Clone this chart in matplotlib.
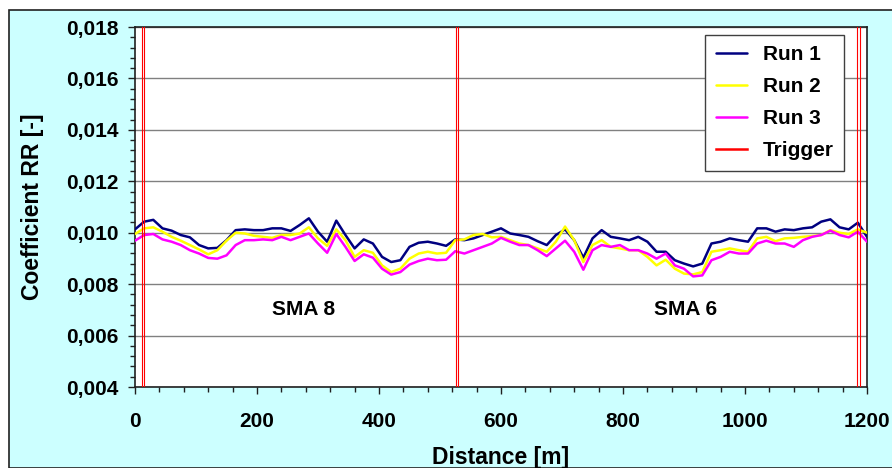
import matplotlib
matplotlib.use("Agg")
import matplotlib.pyplot as plt
from matplotlib.patches import Rectangle
from matplotlib.ticker import MultipleLocator

plt.rcParams['font.family'] = ['Liberation Sans', 'DejaVu Sans']
plt.rcParams['font.weight'] = 'bold'

# ---------------- data ----------------
distance = [0, 15, 30, 45, 60, 75, 90, 105, 120, 135, 150, 165, 180, 195, 210, 225,
            240, 255, 270, 285, 300, 315, 330, 345, 360, 375, 390, 405, 420, 435, 450, 465,
            480, 495, 510, 525, 540, 555, 570, 585, 600, 615, 630, 645, 660, 675, 690, 705,
            720, 735, 750, 765, 780, 795, 810, 825, 840, 855, 870, 885, 900, 915, 930, 945,
            960, 975, 990, 1005, 1020, 1035, 1050, 1065, 1080, 1095, 1110, 1125, 1140, 1155,
            1170, 1185, 1200]

run1 = [0.01013, 0.01043, 0.01050, 0.01017, 0.01008, 0.00991, 0.00982, 0.00952,
        0.00939, 0.00941, 0.00971, 0.01010, 0.01013, 0.01010, 0.01010, 0.01017,
        0.01017, 0.01007, 0.01030, 0.01056, 0.01004, 0.00965, 0.01047, 0.00991,
        0.00939, 0.00974, 0.00958, 0.00906, 0.00886, 0.00893, 0.00945, 0.00961,
        0.00965, 0.00958, 0.00949, 0.00974, 0.00971, 0.00978, 0.00991, 0.01004,
        0.01017, 0.00997, 0.00991, 0.00984, 0.00967, 0.00952, 0.00991, 0.01013,
        0.00971, 0.00903, 0.00978, 0.01010, 0.00984, 0.00978, 0.00971, 0.00984,
        0.00965, 0.00926, 0.00926, 0.00893, 0.00880, 0.00869, 0.00880, 0.00958,
        0.00965, 0.00978, 0.00971, 0.00965, 0.01017, 0.01017, 0.01004, 0.01013,
        0.01010, 0.01017, 0.01021, 0.01043, 0.01052, 0.01021, 0.01013, 0.01039,
        0.00984]

run2 = [0.00995, 0.01017, 0.01021, 0.01004, 0.00984, 0.00969, 0.00952, 0.00935,
        0.00916, 0.00932, 0.00969, 0.01000, 0.00997, 0.00988, 0.00984, 0.00980,
        0.00991, 0.00991, 0.00997, 0.01021, 0.00978, 0.00949, 0.01013, 0.00971,
        0.00906, 0.00932, 0.00922, 0.00873, 0.00847, 0.00860, 0.00899, 0.00919,
        0.00926, 0.00919, 0.00922, 0.00971, 0.00974, 0.00991, 0.00995, 0.00982,
        0.00984, 0.00971, 0.00958, 0.00952, 0.00939, 0.00926, 0.00965, 0.01024,
        0.00971, 0.00886, 0.00952, 0.00971, 0.00945, 0.00939, 0.00932, 0.00932,
        0.00906, 0.00873, 0.00895, 0.00860, 0.00841, 0.00838, 0.00847, 0.00926,
        0.00932, 0.00939, 0.00932, 0.00926, 0.00978, 0.00984, 0.00967, 0.00978,
        0.00980, 0.00984, 0.00987, 0.00991, 0.01010, 0.01000, 0.00995, 0.01013,
        0.01000]

run3 = [0.00969, 0.00991, 0.00995, 0.00974, 0.00965, 0.00952, 0.00932, 0.00919,
        0.00902, 0.00899, 0.00912, 0.00952, 0.00971, 0.00971, 0.00974, 0.00971,
        0.00984, 0.00971, 0.00984, 0.00997, 0.00958, 0.00922, 0.00995, 0.00945,
        0.00890, 0.00916, 0.00903, 0.00860, 0.00837, 0.00847, 0.00876, 0.00890,
        0.00899, 0.00893, 0.00895, 0.00928, 0.00919, 0.00932, 0.00945, 0.00958,
        0.00980, 0.00965, 0.00952, 0.00952, 0.00932, 0.00909, 0.00939, 0.00969,
        0.00926, 0.00856, 0.00932, 0.00952, 0.00945, 0.00952, 0.00932, 0.00932,
        0.00919, 0.00899, 0.00919, 0.00873, 0.00860, 0.00830, 0.00834, 0.00893,
        0.00906, 0.00926, 0.00919, 0.00919, 0.00958, 0.00969, 0.00958, 0.00958,
        0.00945, 0.00971, 0.00984, 0.00991, 0.01008, 0.00991, 0.00982, 0.01004,
        0.00965]

trigger_positions = [11, 14, 527, 530, 1184, 1189]

series_labels = ["Run 1", "Run 2", "Run 3"]
series_colors = ["#000080", "#FFFF00", "#FF00FF"]
trigger_label = "Trigger"

section_labels = ["SMA 8", "SMA 6"]
section_x = [277, 903]
section_y = [0.0070, 0.0070]

x_ticks = [0, 200, 400, 600, 800, 1000, 1200]
y_ticks = [0.004, 0.006, 0.008, 0.010, 0.012, 0.014, 0.016, 0.018]
y_tick_labels = ["0,004", "0,006", "0,008", "0,010", "0,012", "0,014", "0,016", "0,018"]

# ---------------- figure ----------------
W, H = 892, 468
fig = plt.figure(figsize=(W / 100, H / 100), dpi=100)
fig.patch.set_facecolor("white")

# cyan chart area with dark border
bg = Rectangle((9 / W, 0), 1 - 9 / W + 0.01, 1 - 10 / H, transform=fig.transFigure,
               facecolor="#CCFFFF", edgecolor="#202020", linewidth=1.2, zorder=-10)
fig.patches.append(bg)

left, right, top, bottom = 135, 867, 27, 387
ax = fig.add_axes([left / W, 1 - bottom / H, (right - left) / W, (bottom - top) / H])
ax.set_facecolor("white")

for vals, lab, col, z in zip([run1, run2, run3], series_labels, series_colors, [3, 4, 5]):
    ax.plot(distance, vals, color=col, linewidth=1.8, label=lab, zorder=z,
            solid_joinstyle="round", solid_capstyle="round")

for i, xp in enumerate(trigger_positions):
    ax.axvline(xp, color="#FF0000", linewidth=0.8, zorder=6,
               label=trigger_label if i == 0 else None)

for lab, sx, sy in zip(section_labels, section_x, section_y):
    ax.text(sx, sy, lab, ha="center", va="center", fontsize=15, fontweight="bold")

ax.set_xlim(0, 1200)
ax.set_ylim(0.004, 0.018)
ax.set_xticks(x_ticks)
ax.set_xticklabels([str(t) for t in x_ticks])
ax.set_yticks(y_ticks)
ax.set_yticklabels(y_tick_labels)
ax.xaxis.set_minor_locator(MultipleLocator(40))
ax.yaxis.set_minor_locator(MultipleLocator(0.0004))

ax.tick_params(axis="both", which="major", direction="out", length=5, width=1,
               color="#202020", labelsize=15)
ax.tick_params(axis="both", which="minor", direction="out", length=3.5, width=1,
               color="#202020")
ax.tick_params(axis="x", which="major", pad=13)
ax.tick_params(axis="y", which="major", pad=7)
for lbl in ax.get_xticklabels() + ax.get_yticklabels():
    lbl.set_fontweight("bold")

ax.grid(axis="y", which="major", color="#808080", linewidth=1.0, zorder=1)
ax.set_axisbelow(True)
for s in ax.spines.values():
    s.set_color("#202020")
    s.set_linewidth(1.2)

ax.set_xlabel("Distance [m]", fontsize=16.5, fontweight="bold", labelpad=11)
ax.set_ylabel("Coefficient RR [-]", fontsize=16.5, fontweight="bold", labelpad=16)

leg = ax.legend(loc="upper right", bbox_to_anchor=((844 - left) / (right - left),
                                                   1 - (35 - top) / (bottom - top)),
                borderaxespad=0, fancybox=False, framealpha=1, edgecolor="#404040",
                prop={"size": 15, "weight": "bold"}, handlelength=1.5,
                labelspacing=0.62, borderpad=0.5, handletextpad=0.75)
leg.get_frame().set_linewidth(1.0)
for line in leg.get_lines():
    line.set_linewidth(1.8)

fig.savefig("out.png", dpi=100)
